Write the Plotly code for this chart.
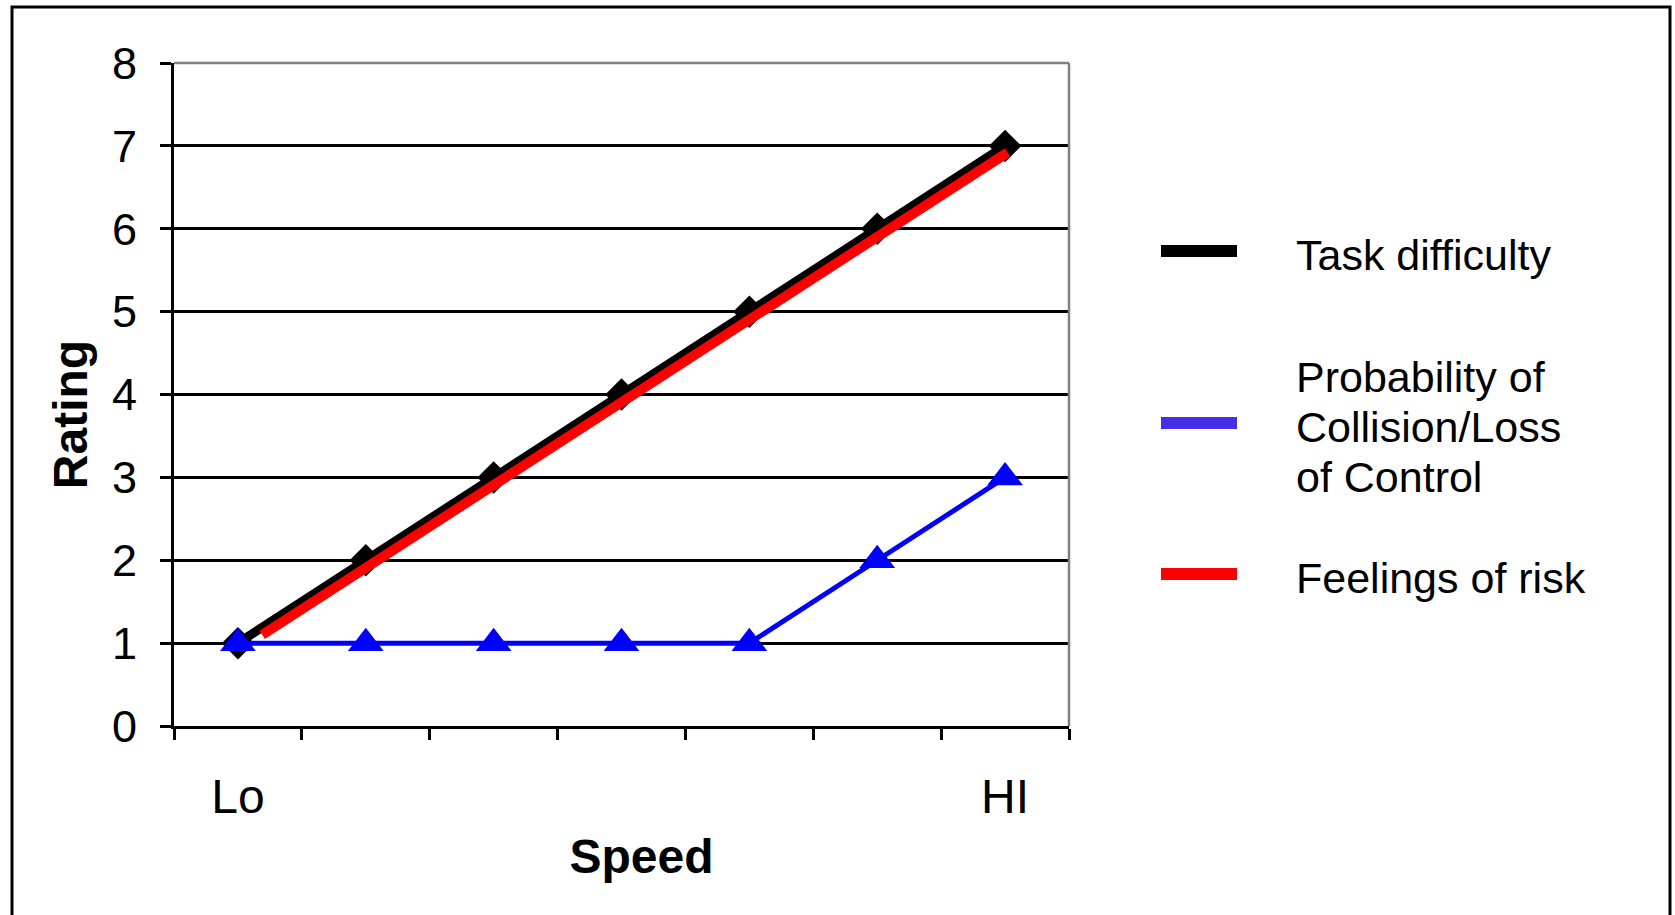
import plotly.graph_objects as go

# ---- data ----
categories = ["Lo", "", "", "", "", "", "HI"]
speed_idx = [0, 1, 2, 3, 4, 5, 6]
task_difficulty = [1, 2, 3, 4, 5, 6, 7]
prob_collision = [1, 1, 1, 1, 1, 2, 3]
risk_x = [0.19, 6.02]
risk_y = [1.10, 6.92]

legend_colors = ["#000000", "#442ee6", "#ff0000"]

FONT = "Liberation Sans, Arial, sans-serif"
W, H = 1675, 915
L, R, T, B = 174, 1675 - 1069, 63, 915 - 726
PW, PH = W - L - R, H - T - B


def px_x(p):
    return (p - L) / PW


def px_y(p):
    return (H - B - p) / PH


fig = go.Figure()

fig.add_trace(go.Scatter(
    x=speed_idx, y=task_difficulty, mode="lines+markers", name="Task difficulty",
    line=dict(color="#000000", width=9),
    marker=dict(symbol="diamond", size=25, color="#000000"),
    showlegend=False, cliponaxis=False,
))
fig.add_trace(go.Scatter(
    x=risk_x, y=risk_y, mode="lines", name="Feelings of risk",
    line=dict(color="#ff0000", width=10),
    showlegend=False, cliponaxis=False,
))
fig.add_trace(go.Scatter(
    x=speed_idx, y=prob_collision, mode="lines+markers", name="Probability of Collision/Loss of Control",
    line=dict(color="#0000ff", width=5),
    marker=dict(symbol="triangle-up", size=31, color="#0000ff"),
    showlegend=False, cliponaxis=False,
))

shapes = []
# outer frame
shapes.append(dict(type="rect", xref="paper", yref="paper",
                   x0=px_x(12), x1=px_x(1670), y0=px_y(930), y1=px_y(7),
                   line=dict(color="#000000", width=3), fillcolor="rgba(0,0,0,0)", layer="below"))
# plot-area border (top and right, grey)
shapes.append(dict(type="line", xref="paper", yref="paper", x0=0, x1=1, y0=1, y1=1,
                   line=dict(color="#808080", width=2.5), layer="above"))
shapes.append(dict(type="line", xref="paper", yref="paper", x0=1, x1=1, y0=0, y1=1,
                   line=dict(color="#808080", width=2.5), layer="above"))

annotations = []
sw_y = [251, 423, 574]
text_lines = [["Task difficulty"], ["Probability of", "Collision/Loss", "of Control"], ["Feelings of risk"]]
for i, (yc, col, lines) in enumerate(zip(sw_y, legend_colors, text_lines)):
    shapes.append(dict(type="line", xref="paper", yref="paper",
                       x0=px_x(1161), x1=px_x(1237), y0=px_y(yc), y1=px_y(yc),
                       line=dict(color=col, width=12)))
    n = len(lines)
    for j, t in enumerate(lines):
        ty = yc + 4 + (j - (n - 1) / 2) * 50
        annotations.append(dict(text=t, xref="paper", yref="paper", x=px_x(1294), y=px_y(ty),
                                xanchor="left", yanchor="middle", showarrow=False,
                                font=dict(family=FONT, size=43, color="#000000")))

fig.update_layout(
    width=W, height=H,
    margin=dict(l=L, r=R, t=T, b=B, autoexpand=False),
    paper_bgcolor="#ffffff", plot_bgcolor="#ffffff",
    font=dict(family=FONT, color="#000000"),
    shapes=shapes, annotations=annotations,
    showlegend=False,
    xaxis=dict(
        range=[-0.5, 6.5], tickvals=speed_idx, ticktext=categories,
        ticks="", showgrid=False, zeroline=False,
        showline=True, linecolor="#000000", linewidth=3,
        tickfont=dict(family=FONT, size=48, color="#000000"),
        ticklabelstandoff=26,
        minor=dict(tickvals=[-0.5, 0.5, 1.5, 2.5, 3.5, 4.5, 5.5, 6.5], ticks="outside",
                   ticklen=11, tickwidth=2.5, tickcolor="#000000", showgrid=False),
        title=dict(text="&nbsp;&nbsp;&nbsp;<b>Speed</b>", font=dict(family=FONT, size=48, color="#000000"), standoff=18),
        automargin=False, fixedrange=True,
    ),
    yaxis=dict(
        range=[0, 8], tickvals=[0, 1, 2, 3, 4, 5, 6, 7, 8],
        ticks="outside", ticklen=11, tickwidth=2.5, tickcolor="#000000",
        showgrid=True, gridcolor="#000000", gridwidth=2.5, zeroline=False,
        showline=True, linecolor="#000000", linewidth=3,
        tickfont=dict(family=FONT, size=45, color="#000000"),
        ticklabelstandoff=14,
        title=dict(text="<b>Rating</b>&nbsp;&nbsp;&nbsp;", font=dict(family=FONT, size=48, color="#000000"), standoff=10),
        automargin=False, fixedrange=True,
    ),
)

fig.write_html("out.html", config={"displayModeBar": False})
